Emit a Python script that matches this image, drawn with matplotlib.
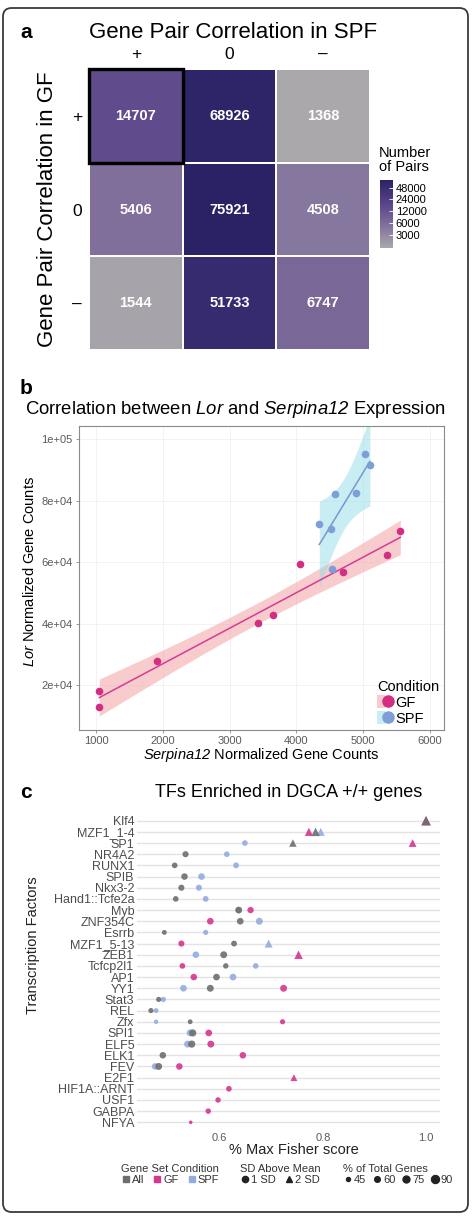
import numpy as np
import matplotlib
matplotlib.use('Agg')
import matplotlib.pyplot as plt
from matplotlib.colors import LinearSegmentedColormap, LogNorm
from matplotlib.patches import FancyBboxPatch, Rectangle, Patch
from matplotlib.lines import Line2D
from matplotlib.legend_handler import HandlerTuple

plt.rcParams['font.family'] = ['Liberation Sans', 'DejaVu Sans']
plt.rcParams['mathtext.fontset'] = 'custom'
# digits inside math fall back to 'rm'; make it italic so "Serpina12" is fully italic
plt.rcParams['mathtext.rm'] = 'Liberation Sans:italic'
plt.rcParams['mathtext.it'] = 'Liberation Sans:italic'

# ---------------- Panel a data ----------------
spf_levels = ['+', '0', '–']
gf_levels = ['+', '0', '–']
pair_counts = [[14707, 68926, 1368],
               [5406, 75921, 4508],
               [1544, 51733, 6747]]
cbar_ticks = [3000, 6000, 12000, 24000, 48000]
highlight_cell = ('+', '+')

# ---------------- Panel b data ----------------
gf_serpina = [1049, 1049, 1913, 3430, 3654, 4058, 4702, 5352, 5556]
gf_lor = [18050, 12940, 27800, 40070, 42760, 59350, 56650, 62400, 70080]
spf_serpina = [4343, 4514, 4578, 4533, 4888, 5030, 5100]
spf_lor = [72360, 70830, 82200, 57700, 82640, 95230, 91570]
b_xticks = [1000, 2000, 3000, 4000, 5000, 6000]
b_yticks = [20000, 40000, 60000, 80000, 100000]
b_ytick_labels = ['2e+04', '4e+04', '6e+04', '8e+04', '1e+05']

# ---------------- Panel c data ----------------
tf_names = ['Klf4', 'MZF1_1-4', 'SP1', 'NR4A2', 'RUNX1', 'SPIB', 'Nkx3-2',
            'Hand1::Tcfe2a', 'Myb', 'ZNF354C', 'Esrrb', 'MZF1_5-13', 'ZEB1',
            'Tcfcp2l1', 'AP1', 'YY1', 'Stat3', 'REL', 'Zfx', 'SPI1', 'ELF5',
            'ELK1', 'FEV', 'E2F1', 'HIF1A::ARNT', 'USF1', 'GABPA', 'NFYA']

all_tf = ['Klf4', 'MZF1_1-4', 'SP1', 'NR4A2', 'RUNX1', 'SPIB', 'Nkx3-2',
          'Hand1::Tcfe2a', 'Myb', 'ZNF354C', 'Esrrb', 'MZF1_5-13', 'ZEB1',
          'Tcfcp2l1', 'AP1', 'YY1', 'Stat3', 'REL', 'Zfx', 'SPI1', 'ELF5',
          'ELK1', 'FEV']
all_score = [1.0, 0.786, 0.742, 0.534, 0.513, 0.532, 0.526, 0.515, 0.637,
             0.640, 0.493, 0.628, 0.608, 0.612, 0.594, 0.582, 0.482, 0.467,
             0.543, 0.548, 0.546, 0.490, 0.482]
all_pct = [85, 75, 65, 65, 60, 70, 65, 60, 72, 72, 52, 62, 75, 58, 72, 75,
           55, 55, 52, 78, 78, 70, 75]
all_sd = [2, 2, 2, 1, 1, 1, 1, 1, 1, 1, 1, 1, 1, 1, 1, 1, 1, 1, 1, 1, 1, 1, 1]

gf_tf = ['Klf4', 'MZF1_1-4', 'SP1', 'Myb', 'ZNF354C', 'MZF1_5-13', 'ZEB1',
         'Tcfcp2l1', 'AP1', 'YY1', 'Zfx', 'SPI1', 'ELF5', 'ELK1', 'FEV',
         'E2F1', 'HIF1A::ARNT', 'USF1', 'GABPA', 'NFYA']
gf_score = [1.0, 0.773, 0.974, 0.660, 0.582, 0.526, 0.753, 0.528, 0.550,
            0.724, 0.722, 0.579, 0.583, 0.645, 0.522, 0.744, 0.618, 0.597,
            0.578, 0.544]
gf_pct = [85, 72, 68, 68, 72, 65, 75, 60, 70, 75, 55, 72, 75, 70, 70, 60,
          60, 58, 58, 42]
gf_sd = [2, 2, 2, 1, 1, 1, 2, 1, 1, 1, 1, 1, 1, 1, 1, 2, 1, 1, 1, 1]

spf_tf = ['MZF1_1-4', 'SP1', 'NR4A2', 'RUNX1', 'SPIB', 'Nkx3-2',
          'Hand1::Tcfe2a', 'Myb', 'ZNF354C', 'Esrrb', 'MZF1_5-13', 'ZEB1',
          'Tcfcp2l1', 'AP1', 'YY1', 'Stat3', 'REL', 'Zfx', 'SPI1', 'ELF5',
          'FEV']
spf_score = [0.796, 0.649, 0.614, 0.632, 0.565, 0.560, 0.573, 0.637, 0.677,
             0.573, 0.695, 0.554, 0.670, 0.626, 0.530, 0.491, 0.477, 0.477,
             0.543, 0.538, 0.475]
spf_pct = [70, 60, 60, 62, 72, 65, 62, 70, 75, 55, 70, 70, 60, 72, 72, 55,
           52, 48, 75, 75, 70]
spf_sd = [2, 1, 1, 1, 1, 1, 1, 1, 1, 1, 2, 1, 1, 1, 1, 1, 1, 1, 1, 1, 1]

legend_sizes = [45, 60, 75, 90]

# ---------------- figure ----------------
W, H = 477, 1218
fig = plt.figure(figsize=(W / 100, H / 100), dpi=100)


def fx(px):
    return px / W


def fy(py):
    return 1 - py / H


def rect(l, t, r, b):
    return [fx(l), fy(b), fx(r) - fx(l), (b - t) / H]


# outer rounded frame
frame = FancyBboxPatch((fx(3), fy(1212)), fx(465), (1212 - 8) / H,
                       boxstyle='round,pad=0,rounding_size=0.018',
                       transform=fig.transFigure, fill=False,
                       ec='#3a3a3a', lw=1.3, mutation_aspect=W / H)
fig.patches.append(frame)

# panel letters
for lab, yy in [('a', 33), ('b', 389), ('c', 792)]:
    fig.text(fx(20), fy(yy), lab, fontsize=15, fontweight='bold',
             va='center', ha='left')

# ================= Panel a =================
cmap = LinearSegmentedColormap.from_list(
    'pairs', [(0.0, '#aaa8ab'), (0.35, '#7f6e9b'), (0.6, '#5f4a8c'),
              (1.0, '#2b2266')])
vals = np.array(pair_counts, dtype=float)
norm = LogNorm(vmin=vals.min(), vmax=vals.max())
axa = fig.add_axes(rect(89, 69, 370, 350))
mesh = axa.pcolormesh(np.arange(len(spf_levels) + 1),
                      np.arange(len(gf_levels) + 1), vals, cmap=cmap,
                      norm=norm, edgecolors='white', linewidth=1.2)
axa.set_xlim(0, len(spf_levels))
axa.set_ylim(len(gf_levels), 0)
for i in range(len(gf_levels)):
    for j in range(len(spf_levels)):
        axa.text(j + 0.5, i + 0.5, str(pair_counts[i][j]), ha='center',
                 va='center', color='white', fontsize=10.5,
                 fontweight='bold')
hi = gf_levels.index(highlight_cell[0])
hj = spf_levels.index(highlight_cell[1])
axa.add_patch(Rectangle((hj, hi), 1, 1, fill=False, ec='black', lw=2.4,
                        zorder=5, clip_on=False))
axa.set_xticks(np.arange(len(spf_levels)) + 0.5)
axa.set_xticklabels(spf_levels, fontsize=12.5)
axa.set_yticks(np.arange(len(gf_levels)) + 0.5)
axa.set_yticklabels(gf_levels, fontsize=12.5)
axa.xaxis.tick_top()
axa.tick_params(length=0, pad=5)
for s in axa.spines.values():
    s.set_visible(False)
fig.text(fx(233), fy(33), 'Gene Pair Correlation in SPF', fontsize=16,
         ha='center', va='center')
fig.text(fx(48), fy(209), 'Gene Pair Correlation in GF', fontsize=16,
         ha='center', va='center', rotation=90)

cax = fig.add_axes(rect(380, 180, 393, 248))
cb = fig.colorbar(mesh, cax=cax, ticks=cbar_ticks)
cb.ax.minorticks_off()
cb.ax.set_yticklabels([str(t) for t in cbar_ticks], fontsize=8)
cb.ax.tick_params(length=3, color='white', direction='in', pad=2,
                  width=0.6)
cb.outline.set_visible(False)
fig.text(fx(379), fy(160), 'Number\nof Pairs', fontsize=10.5, ha='left',
         va='center', linespacing=1.0)

# ================= Panel b =================
gf_pt = '#d42d84'
gf_line = '#d63a9a'
gf_fill = '#f39a9a'
spf_pt = '#7b9fd6'
spf_line = '#7f94cf'
spf_fill = '#93dde6'

axb = fig.add_axes(rect(79, 426, 444, 730))
axb.set_xlim(745, 6210)
axb.set_ylim(5400, 104300)


def smooth(ax, x, y, tval, lc, fc):
    x = np.asarray(x, float)
    y = np.asarray(y, float)
    b1, b0 = np.polyfit(x, y, 1)
    xs = np.linspace(x.min(), x.max(), 80)
    ys = b0 + b1 * xs
    n = len(x)
    resid = y - (b0 + b1 * x)
    s = np.sqrt(np.sum(resid ** 2) / (n - 2))
    sxx = np.sum((x - x.mean()) ** 2)
    se = s * np.sqrt(1 / n + (xs - x.mean()) ** 2 / sxx)
    ax.fill_between(xs, ys - tval * se, ys + tval * se, color=fc,
                    alpha=0.5, lw=0, zorder=1)
    ax.plot(xs, ys, color=lc, lw=1.1, zorder=2)


smooth(axb, gf_serpina, gf_lor, 2.365, gf_line, gf_fill)
smooth(axb, spf_serpina, spf_lor, 2.571, spf_line, spf_fill)
axb.scatter(gf_serpina, gf_lor, s=30, color=gf_pt, zorder=3, lw=0)
axb.scatter(spf_serpina, spf_lor, s=30, color=spf_pt, zorder=3, lw=0)
axb.set_xticks(b_xticks)
axb.set_yticks(b_yticks)
axb.set_yticklabels(b_ytick_labels)
axb.tick_params(labelsize=8, labelcolor='#5a5a5a', color='#8a8a8a',
                length=2.5, width=0.6, pad=2)
axb.grid(True, color='#f1f1f1', lw=0.6)
axb.set_axisbelow(True)
for s in axb.spines.values():
    s.set_color('#8a8a8a')
    s.set_linewidth(0.8)
fig.text(fx(235), fy(410),
         r'Correlation between $\mathit{Lor}$ and $\mathit{Serpina12}$ Expression',
         fontsize=13.3, ha='center', va='center')
fig.text(fx(30), fy(572), r'$\mathit{Lor}$ Normalized Gene Counts',
         fontsize=10.5, ha='center', va='center', rotation=90)
fig.text(fx(261), fy(755), r'$\mathit{Serpina12}$ Normalized Gene Counts',
         fontsize=10.5, ha='center', va='center')
hb = [(Patch(fc=gf_fill, alpha=0.5, lw=0),
       Line2D([], [], marker='o', ls='', color=gf_pt, ms=8)),
      (Patch(fc=spf_fill, alpha=0.5, lw=0),
       Line2D([], [], marker='o', ls='', color=spf_pt, ms=8))]
legb = axb.legend(hb, ['GF', 'SPF'], title='Condition', loc='lower right',
                  frameon=False, fontsize=10.5, title_fontsize=10.5,
                  handler_map={tuple: HandlerTuple(ndivide=None, pad=0)},
                  handlelength=1.0, handleheight=1.0, handletextpad=0.2,
                  labelspacing=0.1, borderaxespad=0.2, borderpad=0.1)
legb._legend_box.align = 'left'

# ================= Panel c =================
c_all = '#6e6e6e'
c_gf = '#d6368f'
c_spf = '#93acdf'

axc = fig.add_axes(rect(137, 814, 440, 1129))
axc.set_xlim(0.44, 1.027)
axc.set_ylim(len(tf_names) - 0.4, -0.6)


def size_of(v):
    d_px = np.sqrt(np.maximum(1.067 * np.asarray(v, float) - 32, 2))
    return (d_px * 0.72) ** 2


def plot_set(tfs, score, pct, sd, color):
    ypos = np.array([tf_names.index(t) for t in tfs])
    score = np.asarray(score)
    pct = np.asarray(pct)
    sd = np.asarray(sd)
    for lvl, mk, fac in [(1, 'o', 1.0), (2, '^', 1.5)]:
        m = sd == lvl
        if m.any():
            axc.scatter(score[m], ypos[m], s=size_of(pct[m]) * fac,
                        marker=mk, color=color, alpha=0.9, lw=0, zorder=3)


plot_set(gf_tf, gf_score, gf_pct, gf_sd, c_gf)
plot_set(spf_tf, spf_score, spf_pct, spf_sd, c_spf)
plot_set(all_tf, all_score, all_pct, all_sd, c_all)

axc.set_yticks(np.arange(len(tf_names)))
axc.set_yticklabels(tf_names, fontsize=9, color='#4d4d4d')
axc.set_xticks([0.6, 0.8, 1.0])
axc.set_xticklabels(['0.6', '0.8', '1.0'], fontsize=8, color='#5a5a5a')
axc.tick_params(length=0, pad=2)
axc.tick_params(axis='x', pad=3)
axc.grid(True, axis='y', color='#e3e3e3', lw=1.0)
axc.set_axisbelow(True)
for s in axc.spines.values():
    s.set_visible(False)
axc.set_title('TFs Enriched in DGCA +/+ genes', fontsize=13, pad=12)
fig.text(fx(294), fy(1150), '% Max Fisher score', fontsize=10.5,
         ha='center', va='center', color='#222222')
fig.text(fx(33), fy(945), 'Transcription Factors', fontsize=10.5,
         ha='center', va='center', rotation=90, color='#222222')

leg_kw = dict(frameon=False, fontsize=8, title_fontsize=8,
              handletextpad=0.1, borderpad=0, borderaxespad=0,
              handlelength=0.9, labelspacing=0.1, loc='upper left')
h1 = [Line2D([], [], marker='s', ls='', color=c, ms=5)
      for c in [c_all, c_gf, c_spf]]
l1 = fig.legend(h1, ['All', 'GF', 'SPF'], title='Gene Set Condition',
                ncol=3, columnspacing=0.7,
                bbox_to_anchor=(fx(121), fy(1164)), **leg_kw)
l1._legend_box.align = 'left'
h2 = [Line2D([], [], marker='o', ls='', color='#222222', ms=4.5),
      Line2D([], [], marker='^', ls='', color='#222222', ms=5)]
l2 = fig.legend(h2, ['1 SD', '2 SD'], title='SD Above Mean', ncol=2,
                columnspacing=0.7, bbox_to_anchor=(fx(240), fy(1164)),
                **leg_kw)
l2._legend_box.align = 'left'
h3 = [Line2D([], [], marker='o', ls='', color='#222222',
             ms=np.sqrt(size_of(v))) for v in legend_sizes]
l3 = fig.legend(h3, [str(v) for v in legend_sizes],
                title='% of Total Genes', ncol=4, columnspacing=0.5,
                bbox_to_anchor=(fx(343), fy(1164)), **leg_kw)
l3._legend_box.align = 'left'
for lg in (l1, l2, l3):
    for t in lg.get_texts():
        t.set_color('#333333')
    lg.get_title().set_color('#333333')

fig.savefig('out.png', dpi=100)
